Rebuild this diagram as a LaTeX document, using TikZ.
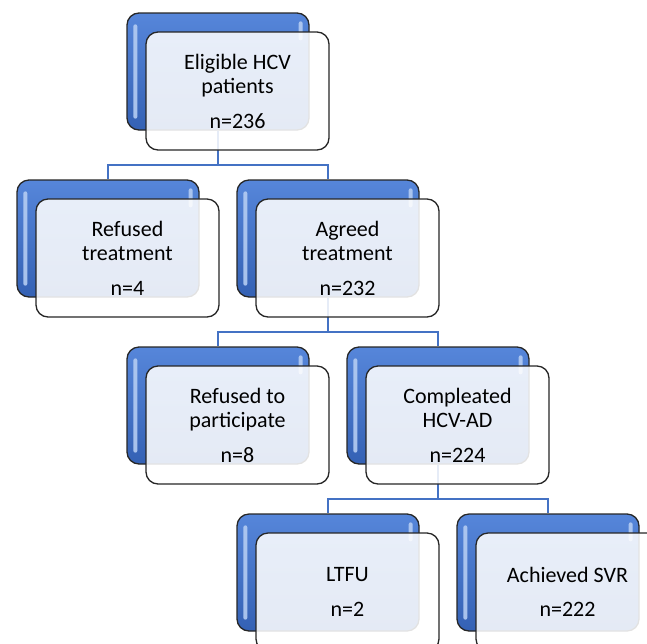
\documentclass[tikz,border=0pt]{standalone}
\usepackage{fontspec}
\setmainfont{Carlito}
\usetikzlibrary{calc}

\definecolor{linkblue}{HTML}{4472C4}
\definecolor{boxtop}{HTML}{5686DA}
\definecolor{boxbot}{HTML}{3461B4}
\definecolor{glint}{HTML}{B4CCF2}
\definecolor{edge}{HTML}{262626}

\tikzset{
  backbox/.style={draw=edge, line width=1.3pt, rounded corners=12pt,
    top color=boxtop, bottom color=boxbot,
    minimum width=182pt, minimum height=117pt, inner sep=0pt},
  frontbox/.style={draw=edge, line width=1.3pt, rounded corners=12pt,
    fill=white, fill opacity=0.87, text opacity=1,
    minimum width=183pt, minimum height=118pt, inner sep=0pt,
    align=center, text=black,
    font=\fontsize{22}{24.5}\selectfont},
  conn/.style={draw=linkblue, line width=1.8pt},
  gloss/.style={fill=glint, fill opacity=0.9, rounded corners=2pt},
}

% blue back plate with its glossy highlights
\newcommand\plate[3]{%
  \node[backbox] (#1) at (#2,#3) {};
  \fill[gloss] ($(#1.north west)+(7,12)$) rectangle ($(#1.south west)+(11,-12)$);
  \fill[gloss] ($(#1.north east)+(-11,9)$) rectangle ($(#1.north east)+(-7,28)$);
}

\begin{document}
\begin{tikzpicture}[x=1pt,y=-1pt]
\useasboundingbox (0,0) rectangle (647,643);
\clip (0,0) rectangle (647,643);

% back plates
\plate{b1}{218}{71.5}
\plate{b2a}{108}{238.5}
\plate{b2b}{328}{238.5}
\plate{b3a}{218}{405.5}
\plate{b3b}{438}{405.5}
\plate{b4a}{328}{572.5}
\plate{b4b}{548}{572.5}

% junctions of the tree
\coordinate (j1) at (218,165);
\coordinate (j2) at (328,332);
\coordinate (j3) at (438,499);

\draw[conn] (b1.south) -- (j1);
\draw[conn] (j1) -| (b2a.north);
\draw[conn] (j1) -| (b2b.north);
\draw[conn] (b2b.south) -- (j2);
\draw[conn] (j2) -| (b3a.north);
\draw[conn] (j2) -| (b3b.north);
\draw[conn] (b3b.south) -- (j3);
\draw[conn] (j3) -| (b4a.north);
\draw[conn] (j3) -| (b4b.north);

% text cards
\node[frontbox] (f1)  at (237.5,91)  {Eligible HCV\\patients\\[10pt]n=236};
\node[frontbox] (f2a) at (127.5,258) {Refused\\treatment\\[10pt]n=4};
\node[frontbox] (f2b) at (347.5,258) {Agreed\\treatment\\[10pt]n=232};
\node[frontbox] (f3a) at (237.5,425) {Refused to\\participate\\[10pt]n=8};
\node[frontbox] (f3b) at (457.5,425) {Compleated\\HCV-AD\\[10pt]n=224};
\node[frontbox] (f4a) at (347.5,592) {LTFU\\[10pt]n=2};
\node[frontbox] (f4b) at (567.5,592) {Achieved SVR\\[10pt]n=222};
\end{tikzpicture}
\end{document}
